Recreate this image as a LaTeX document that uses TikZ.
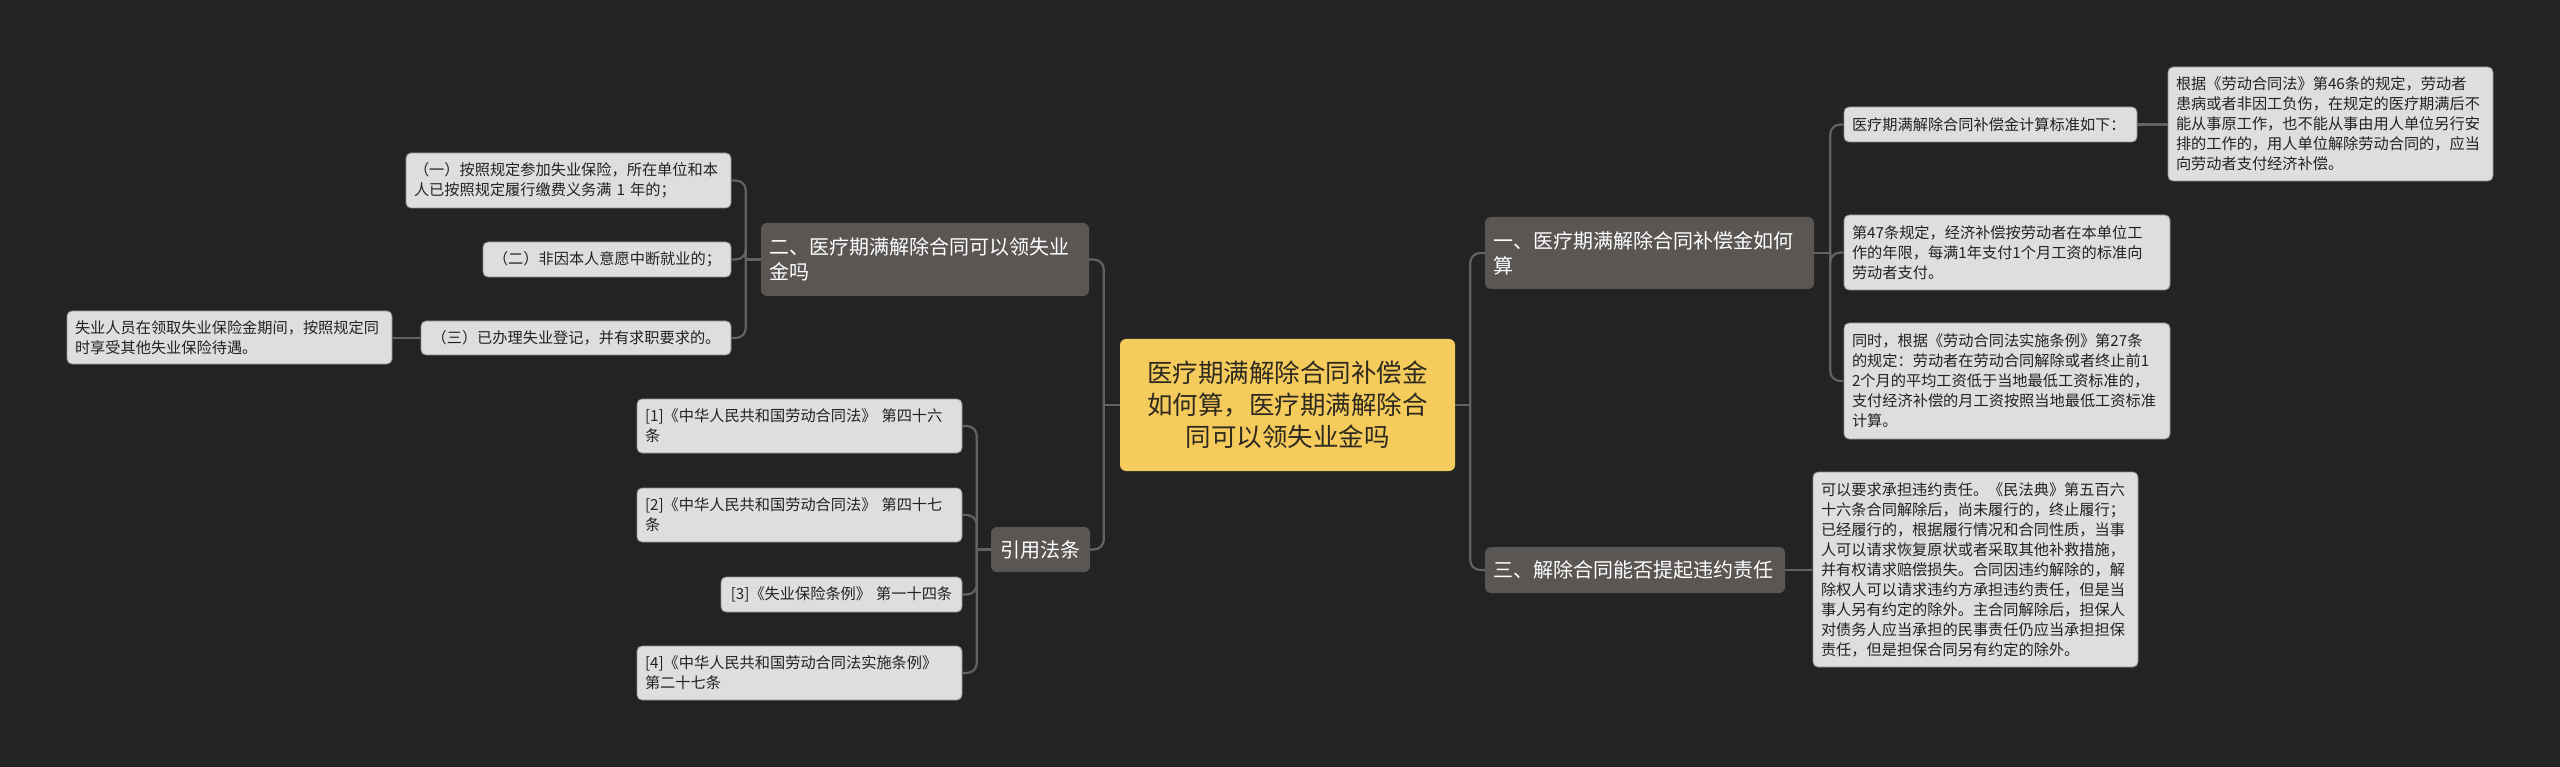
\documentclass[tikz,border=0pt]{standalone}
\usepackage{fontspec}
\setmainfont{Noto Sans CJK SC}
\definecolor{bgc}{HTML}{232323}
\definecolor{rootc}{HTML}{F5CB5C}
\definecolor{roottxt}{HTML}{2E2A20}
\definecolor{mainc}{HTML}{5A5654}
\definecolor{leafc}{HTML}{DEDEDE}
\definecolor{leafb}{HTML}{8E8E8E}
\definecolor{leaftxt}{HTML}{222222}
\definecolor{connc}{HTML}{626262}
\begin{document}
\begin{tikzpicture}[x=1pt,y=-1pt,
  box/.style={rounded corners=5pt, inner xsep=8pt, inner ysep=0pt, anchor=center},
  rootbox/.style={box, fill=rootc, text=roottxt, font=\fontsize{25.5pt}{32pt}\selectfont, align=center, rounded corners=6pt},
  mainbox/.style={box, fill=mainc, text=white, font=\fontsize{20pt}{25pt}\selectfont, align=left, rounded corners=6pt},
  leaf/.style={box, fill=leafc, draw=leafb, line width=0.8pt, text=leaftxt, font=\fontsize{15.2pt}{20pt}\selectfont, align=left},
  conn/.style={draw=connc, line width=2.2pt, rounded corners=10pt}
]
\fill[bgc] (0,0) rectangle (2560,767);
\useasboundingbox (0,0) rectangle (2560,767);

% root
\node[rootbox, minimum width=335pt, minimum height=132pt, text width=319pt] (root) at (1287.5,405)
  {医疗期满解除合同补偿金\\如何算，医疗期满解除合\\同可以领失业金吗};

% right main branches
\node[mainbox, minimum width=329pt, minimum height=72pt, text width=313pt] (B1) at (1649.5,253)
  {一、医疗期满解除合同补偿金如何\\算};
\node[mainbox, minimum width=300pt, minimum height=46pt, text width=284pt] (B3) at (1635,570)
  {三、解除合同能否提起违约责任};

% left main branches
\node[mainbox, minimum width=328pt, minimum height=73pt, text width=312pt] (B2) at (925,259.5)
  {二、医疗期满解除合同可以领失业\\金吗};
\node[mainbox, minimum width=99pt, minimum height=45pt, text width=83pt, align=center] (B4) at (1040.5,549.5)
  {引用法条};

% B1 children
\node[leaf, minimum width=293pt, minimum height=35pt, text width=277pt] (C1a) at (1990.5,124.5)
  {医疗期满解除合同补偿金计算标准如下：};
\node[leaf, minimum width=325pt, minimum height=114pt, text width=309pt] (D) at (2330.5,124)
  {根据《劳动合同法》第46条的规定，劳动者\\患病或者非因工负伤，在规定的医疗期满后不\\能从事原工作，也不能从事由用人单位另行安\\排的工作的，用人单位解除劳动合同的，应当\\向劳动者支付经济补偿。};
\node[leaf, minimum width=326pt, minimum height=75pt, text width=310pt] (C1b) at (2007,252.5)
  {第47条规定，经济补偿按劳动者在本单位工\\作的年限，每满1年支付1个月工资的标准向\\劳动者支付。};
\node[leaf, minimum width=326pt, minimum height=116pt, text width=310pt] (C1c) at (2007,381)
  {同时，根据《劳动合同法实施条例》第27条\\的规定：劳动者在劳动合同解除或者终止前1\\2个月的平均工资低于当地最低工资标准的，\\支付经济补偿的月工资按照当地最低工资标准\\计算。};

% B3 child
\node[leaf, minimum width=325pt, minimum height=195pt, text width=309pt] (C3) at (1975.5,569.5)
  {可以要求承担违约责任。《民法典》第五百六\\十六条合同解除后，尚未履行的，终止履行；\\已经履行的，根据履行情况和合同性质，当事\\人可以请求恢复原状或者采取其他补救措施，\\并有权请求赔偿损失。合同因违约解除的，解\\除权人可以请求违约方承担违约责任，但是当\\事人另有约定的除外。主合同解除后，担保人\\对债务人应当承担的民事责任仍应当承担担保\\责任，但是担保合同另有约定的除外。};

% B2 children
\node[leaf, minimum width=325pt, minimum height=55pt, text width=309pt] (B2a) at (568.5,180.5)
  {（一）按照规定参加失业保险，所在单位和本\\人已按照规定履行缴费义务满 1 年的；};
\node[leaf, minimum width=248pt, minimum height=35pt, text width=232pt, align=center] (B2b) at (607,259.5)
  {（二）非因本人意愿中断就业的；};
\node[leaf, minimum width=310pt, minimum height=34pt, text width=294pt, align=center] (B2c) at (576,338)
  {（三）已办理失业登记，并有求职要求的。};
\node[leaf, minimum width=325pt, minimum height=53pt, text width=309pt] (E) at (229.5,337.5)
  {失业人员在领取失业保险金期间，按照规定同\\时享受其他失业保险待遇。};

% B4 children
\node[leaf, minimum width=325pt, minimum height=54pt, text width=309pt] (L1) at (799.5,426)
  {[1]《中华人民共和国劳动合同法》 第四十六\\条};
\node[leaf, minimum width=325pt, minimum height=54pt, text width=309pt] (L2) at (799.5,515)
  {[2]《中华人民共和国劳动合同法》 第四十七\\条};
\node[leaf, minimum width=241pt, minimum height=35pt, text width=225pt, align=center] (L3) at (841.5,594.5)
  {[3]《失业保险条例》 第一十四条};
\node[leaf, minimum width=325pt, minimum height=54pt, text width=309pt] (L4) at (799.5,673)
  {[4]《中华人民共和国劳动合同法实施条例》\\第二十七条};

% junctions
\coordinate (jR) at ([xshift=15pt]root.east);
\coordinate (jL) at ([xshift=-16pt]root.west);
\coordinate (j1) at ([xshift=16pt]B1.east);
\coordinate (j2) at ([xshift=-15pt]B2.west);
\coordinate (j4) at ([xshift=-14pt]B4.west);

% connectors
\begin{scope}[on background layer/.try]
\draw[conn] (root.east) -- (jR);
\draw[conn] (jR) |- (B1.west);
\draw[conn] (jR) |- (B3.west);
\draw[conn] (root.west) -- (jL);
\draw[conn] (jL) |- (B2.east);
\draw[conn] (jL) |- (B4.east);

\draw[conn] (B1.east) -- (j1);
\draw[conn] (j1) |- (C1a.west);
\draw[conn] (j1) |- (C1b.west);
\draw[conn] (j1) |- (C1c.west);
\draw[conn] (C1a.east) -- (C1a.east -| D.west);
\draw[conn] (B3.east) -- (B3.east -| C3.west);

\draw[conn] (B2.west) -- (j2);
\draw[conn] (j2) |- (B2a.east);
\draw[conn] (j2) |- (B2b.east);
\draw[conn] (j2) |- (B2c.east);
\draw[conn] (B2c.west) -- (B2c.west -| E.east);

\draw[conn] (B4.west) -- (j4);
\draw[conn] (j4) |- (L1.east);
\draw[conn] (j4) |- (L2.east);
\draw[conn] (j4) |- (L3.east);
\draw[conn] (j4) |- (L4.east);
\end{scope}
\end{tikzpicture}
\end{document}
